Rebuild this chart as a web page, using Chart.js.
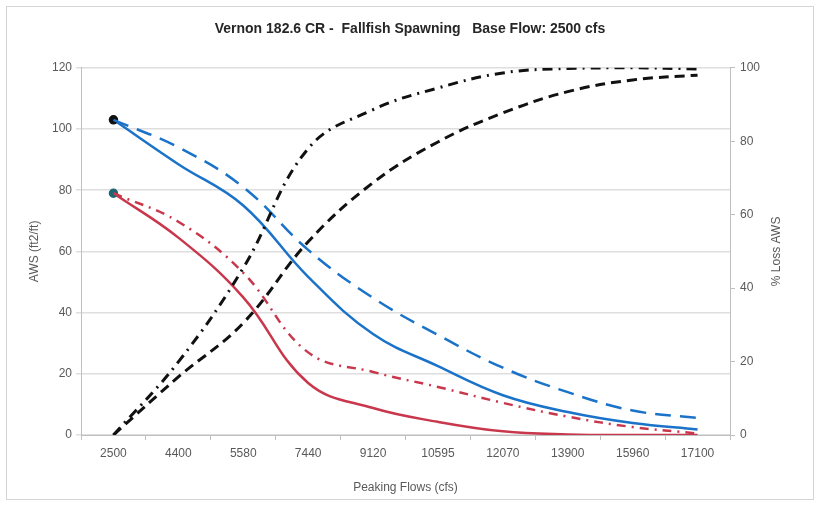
<!DOCTYPE html>
<html>
<head>
<meta charset="utf-8">
<script src="https://cdn.jsdelivr.net/npm/chart.js@4"></script>
<style>
  html, body { margin: 0; padding: 0; background: #fff; }
  #wrap { width: 820px; height: 507px; }
</style>
</head>
<body>
<div id="wrap"><canvas id="myLineChart" width="820" height="507"></canvas></div>
<script>
// categories (peaking flows, cfs)
var flows = ['2500', '4400', '5580', '7440', '9120', '10595', '12070', '13900', '15960', '17100'];

// AWS (ft2/ft) - left axis
var awsBlueSolid = [103, 88.5, 75, 51.7, 33, 22.5, 13, 7.5, 3.9, 1.8];
var awsBlueDashed = [103, 94, 81, 60.5, 44.8, 32.7, 22, 14, 8, 5.6];
var awsRedSolid = [79, 64.5, 45, 17, 8.8, 4.3, 1.2, 0.2, 0, 0];
var awsRedDashDot = [79, 69.7, 53, 27, 20.6, 15.7, 10.5, 6, 2.6, 0.5];

// % Loss AWS - right axis
var lossDashed = [0, 15.8, 30.5, 52.6, 68.7, 79.8, 87.7, 93.5, 96.7, 98];
var lossDashDot = [0, 19.9, 45.5, 78, 88.6, 94.5, 98.6, 99.8, 100, 99.7];

var leftMax = 120;
var rightMax = 100;
var tickStep = 20;

var blue = '#1a73c8';
var red = '#c9374c';
var grey = '#595959';

function firstDot(n, r) {
    var a = [];
    for (var i = 0; i < n; i++) a.push(i === 0 ? r : 0);
    return a;
}

// frame round the chart + right axis title reading upwards like the left one
var extras = {
    id: 'extras',
    beforeDraw: function (chart) {
        var ctx = chart.ctx;
        ctx.save();
        ctx.strokeStyle = '#d4d4d4';
        ctx.lineWidth = 1;
        ctx.strokeRect(6.5, 6.5, 807, 493);
        ctx.restore();
    },
    afterDraw: function (chart) {
        var ctx = chart.ctx;
        var area = chart.chartArea;
        ctx.save();
        ctx.translate(777, (area.top + area.bottom) / 2);
        ctx.rotate(-Math.PI / 2);
        ctx.fillStyle = grey;
        ctx.font = '12px "Liberation Sans", Arial, sans-serif';
        ctx.textAlign = 'center';
        ctx.textBaseline = 'middle';
        ctx.fillText('% Loss AWS', 0, 0);
        ctx.restore();
    }
};

var ctx = document.getElementById('myLineChart').getContext('2d');
var myLineChart = new Chart(ctx, {
    type: 'line',
    data: {
        labels: flows,
        datasets: [{
            data: lossDashDot,
            yAxisID: 'y2',
            borderColor: '#111',
            borderWidth: 3,
            borderDash: [10, 6, 2, 6],
            pointRadius: 0
        }, {
            data: lossDashed,
            yAxisID: 'y2',
            borderColor: '#111',
            borderWidth: 3,
            borderDash: [10, 6],
            pointRadius: 0
        }, {
            data: awsBlueDashed,
            yAxisID: 'y',
            borderColor: blue,
            borderWidth: 2.5,
            borderDash: [16, 9],
            pointRadius: 0
        }, {
            data: awsRedDashDot,
            yAxisID: 'y',
            borderColor: red,
            borderWidth: 2.5,
            borderDash: [9, 6, 2, 6],
            pointRadius: 0
        }, {
            data: awsBlueSolid,
            yAxisID: 'y',
            borderColor: blue,
            borderWidth: 2.5,
            pointRadius: firstDot(flows.length, 3.5),
            pointBackgroundColor: '#111',
            pointBorderColor: '#111'
        }, {
            data: awsRedSolid,
            yAxisID: 'y',
            borderColor: red,
            borderWidth: 2.5,
            pointRadius: firstDot(flows.length, 3.5),
            pointBackgroundColor: '#1d6672',
            pointBorderColor: '#1d6672'
        }]
    },
    options: {
        responsive: false,
        animation: false,
        elements: { line: { tension: 0.4 } },
        layout: { padding: 0 },
        font: { family: '"Liberation Sans", Arial, sans-serif' },
        plugins: {
            legend: { display: false },
            tooltip: { enabled: false },
            title: {
                display: true,
                text: 'Vernon 182.6 CR -  Fallfish Spawning   Base Flow: 2500 cfs',
                color: '#262626',
                font: { size: 14, weight: 'bold', family: '"Liberation Sans", Arial, sans-serif' },
                padding: { top: 21, bottom: 30 }
            }
        },
        scales: {
            x: {
                offset: true,
                grid: { display: true, drawOnChartArea: false, offset: true, tickLength: 5, color: '#bfbfbf' },
                border: { color: '#bfbfbf' },
                ticks: { color: grey, font: { size: 12 }, padding: 6, maxRotation: 0, autoSkip: false },
                title: {
                    display: true,
                    text: 'Peaking Flows (cfs)',
                    color: grey,
                    font: { size: 12 },
                    padding: { top: 0, bottom: 12 }
                },
                afterFit: function (s) { s.height = 72; }
            },
            y: {
                position: 'left',
                min: 0,
                max: leftMax,
                ticks: { stepSize: tickStep, color: grey, font: { size: 12 }, padding: 4 },
                grid: { color: '#dedede', lineWidth: 1.5, tickLength: 5 },
                border: { color: '#bfbfbf' },
                title: {
                    display: true,
                    text: 'AWS (ft2/ft)',
                    color: grey,
                    font: { size: 12 },
                    padding: { top: 27, bottom: 0 }
                },
                afterFit: function (s) { s.width = 81; }
            },
            y2: {
                position: 'right',
                min: 0,
                max: rightMax,
                ticks: { stepSize: tickStep, color: grey, font: { size: 12 }, padding: 5 },
                grid: { drawOnChartArea: false, tickLength: 5, color: '#bfbfbf' },
                border: { color: '#bfbfbf' },
                afterFit: function (s) { s.width = 90; }
            }
        }
    },
    plugins: [extras]
});
</script>
</body>
</html>
